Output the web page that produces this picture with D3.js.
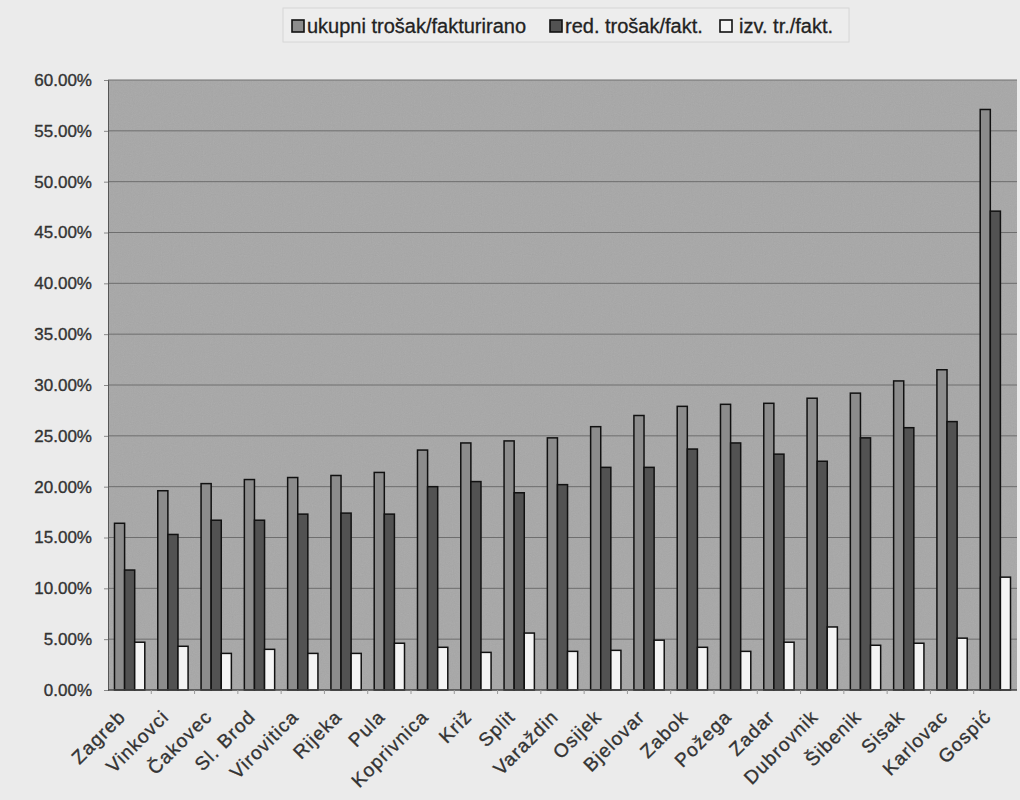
<!DOCTYPE html>
<html>
<head>
<meta charset="utf-8">
<script src="https://cdn.jsdelivr.net/npm/d3@7"></script>
<style>
  body { margin: 0; background: #ebebeb; }
  svg { display: block; }
  text { font-family: "Liberation Sans", Arial, sans-serif; }
</style>
</head>
<body>
<svg id="drawing_region"></svg>
<script>
// categories (towns) and the three series, in percent
const towns = ["Zagreb", "Vinkovci", "Čakovec", "Sl. Brod", "Virovitica", "Rijeka", "Pula",
    "Koprivnica", "Križ", "Split", "Varaždin", "Osijek", "Bjelovar", "Zabok", "Požega",
    "Zadar", "Dubrovnik", "Šibenik", "Sisak", "Karlovac", "Gospić"];
const seriesNames = ["ukupni trošak/fakturirano", "red. trošak/fakt.", "izv. tr./fakt."];
const ukupni = [16.4, 19.6, 20.3, 20.7, 20.9, 21.1, 21.4, 23.6, 24.3, 24.5, 24.8, 25.9, 27.0,
    27.9, 28.1, 28.2, 28.7, 29.2, 30.4, 31.5, 57.1];
const redovni = [11.8, 15.3, 16.7, 16.7, 17.3, 17.4, 17.3, 20.0, 20.5, 19.4, 20.2, 21.9, 21.9,
    23.7, 24.3, 23.2, 22.5, 24.8, 25.8, 26.4, 47.1];
const izvanredni = [4.7, 4.3, 3.6, 4.0, 3.6, 3.6, 4.6, 4.2, 3.7, 5.6, 3.8, 3.9, 4.9,
    4.2, 3.8, 4.7, 6.2, 4.4, 4.6, 5.1, 11.1];
const yTicks = [0, 5, 10, 15, 20, 25, 30, 35, 40, 45, 50, 55, 60];

const colors = ["#8c8c8c", "#525252", "#f4f4f4"];

const data = towns.map( (t, i) => ({ town: t, values: [ukupni[i], redovni[i], izvanredni[i]] }) );

const width = 1020, height = 800;
const margin = {top: 80, right: 3, bottom: 110, left: 108};
const inner_width = width - margin.left - margin.right;
const inner_height = height - margin.top - margin.bottom;

const svg = d3.select('#drawing_region')
    .attr('width', width)
    .attr('height', height);

// scanned paper grain
const defs = svg.append('defs');
const grain = defs.append('filter').attr('id', 'grain')
    .attr('x', 0).attr('y', 0).attr('width', 1).attr('height', 1);
grain.append('feTurbulence')
    .attr('type', 'fractalNoise')
    .attr('baseFrequency', 0.9)
    .attr('numOctaves', 2)
    .attr('seed', 3);
grain.append('feColorMatrix')
    .attr('type', 'saturate')
    .attr('values', 0);

svg.append('rect')
    .attr('width', width).attr('height', height)
    .attr('fill', '#ebebeb');

const chart = svg.append('g')
    .attr('transform', `translate(${margin.left}, ${margin.top})`);

const xscale = d3.scaleBand()
    .domain(towns)
    .range([0, inner_width])
    .paddingInner(0.3)
    .paddingOuter(0.15);

const x1 = d3.scaleBand()
    .domain([0, 1, 2])
    .range([0, xscale.bandwidth()]);

const yscale = d3.scaleLinear()
    .domain([0, 60])
    .range([inner_height, 0]);

// plot area
chart.append('rect')
    .attr('width', inner_width)
    .attr('height', inner_height)
    .attr('fill', '#a7a7a7');

chart.append('rect')
    .attr('width', inner_width)
    .attr('height', inner_height)
    .attr('filter', 'url(#grain)')
    .attr('opacity', 0.12);

// gridlines
chart.append('g')
    .selectAll('line')
    .data(yTicks.slice(1))
    .enter()
    .append('line')
    .attr('x1', 0)
    .attr('x2', inner_width)
    .attr('y1', d => yscale(d))
    .attr('y2', d => yscale(d))
    .attr('stroke', '#6e6e6e')
    .attr('stroke-width', 1);

// bars
const groups = chart.selectAll('.group')
    .data(data)
    .enter()
    .append('g')
    .attr('transform', d => `translate(${xscale(d.town)}, 0)`);

groups.selectAll('rect')
    .data(d => d.values.map( (v, k) => ({k: k, v: v}) ))
    .enter()
    .append('rect')
    .attr('x', d => x1(d.k))
    .attr('y', d => yscale(d.v))
    .attr('width', x1.bandwidth())
    .attr('height', d => inner_height - yscale(d.v))
    .attr('fill', d => colors[d.k])
    .attr('stroke', '#111')
    .attr('stroke-width', 1.5);

// axes
const yaxis = d3.axisLeft(yscale)
    .tickValues(yTicks)
    .tickFormat(d => d.toFixed(2) + '%')
    .tickSize(4)
    .tickPadding(12);

const yaxis_group = chart.append('g').call(yaxis);
yaxis_group.select('.domain').attr('stroke', '#555');
yaxis_group.selectAll('.tick line').attr('stroke', '#888');
yaxis_group.selectAll('text')
    .attr('fill', '#333')
    .attr('stroke', '#333')
    .attr('stroke-width', 0.35)
    .attr('font-size', 17)
    .attr('font-family', '"Liberation Sans", Arial, sans-serif');

const xaxis_group = chart.append('g')
    .attr('transform', `translate(0, ${inner_height})`);

xaxis_group.append('line')
    .attr('x1', 0).attr('x2', inner_width)
    .attr('stroke', '#444').attr('stroke-width', 1.5);

// ticks between categories
xaxis_group.selectAll('.sep')
    .data(towns.slice(1))
    .enter()
    .append('line')
    .attr('x1', d => xscale(d) - xscale.step() * xscale.paddingInner() / 2)
    .attr('x2', d => xscale(d) - xscale.step() * xscale.paddingInner() / 2)
    .attr('y1', 0).attr('y2', 4)
    .attr('stroke', '#999');

xaxis_group.selectAll('.label')
    .data(towns)
    .enter()
    .append('text')
    .attr('transform', d => `translate(${xscale(d) + xscale.bandwidth() / 2 - 3}, 28) rotate(-45)`)
    .attr('text-anchor', 'end')
    .attr('fill', '#333')
    .attr('stroke', '#333')
    .attr('stroke-width', 0.35)
    .attr('font-size', 19)
    .attr('letter-spacing', 1.1)
    .text(d => d);

// legend
const legend = svg.append('g');

legend.append('rect')
    .attr('x', 283).attr('y', 8)
    .attr('width', 566).attr('height', 34)
    .attr('fill', '#ededed')
    .attr('stroke', '#d6d6d6');

const legendX = [292, 550, 720];
const items = legend.selectAll('.item')
    .data(seriesNames)
    .enter()
    .append('g')
    .attr('transform', (d, i) => `translate(${legendX[i]}, 0)`);

items.append('rect')
    .attr('x', 0).attr('y', 20)
    .attr('width', 12).attr('height', 12)
    .attr('fill', (d, i) => colors[i])
    .attr('stroke', '#111')
    .attr('stroke-width', 1.6);

items.append('text')
    .attr('x', (d, i) => i === 2 ? 19 : 15)
    .attr('y', 33)
    .attr('fill', '#222')
    .attr('stroke', '#222')
    .attr('stroke-width', 0.3)
    .attr('font-size', 20)
    .text(d => d);
</script>
</body>
</html>
